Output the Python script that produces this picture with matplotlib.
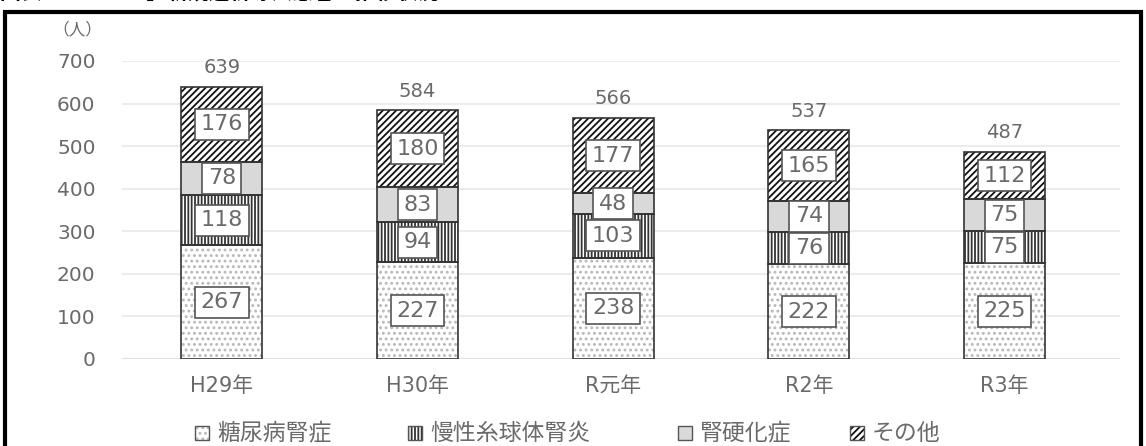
import matplotlib.pyplot as plt
from matplotlib.patches import Rectangle
import numpy as np

plt.rcParams['font.family'] = ['DejaVu Sans', 'Noto Sans CJK JP']
plt.rcParams['hatch.linewidth'] = 1.3

W, H = 1146, 446

# data
years = ['H29年', 'H30年', 'R元年', 'R2年', 'R3年']
diabetic = [267, 227, 238, 222, 225]      # 糖尿病腎症
glomerular = [118, 94, 103, 76, 75]       # 慢性糸球体腎炎
sclerosis = [78, 83, 48, 74, 75]          # 腎硬化症
other = [176, 180, 177, 165, 112]         # その他
totals = [639, 584, 566, 537, 487]

series = [
    ('糖尿病腎症', diabetic, 'white', '#b8b8b8', '...'),
    ('慢性糸球体腎炎', glomerular, 'white', '#333333', '|||||'),
    ('腎硬化症', sclerosis, '#d9d9d9', '#d9d9d9', None),
    ('その他', other, 'white', '#111111', '/////'),
]

fig = plt.figure(figsize=(W / 100, H / 100), dpi=100)
ax = fig.add_axes([122 / W, 1 - 359 / H, (1120 - 122) / W, (359 - 61) / H])

x = np.arange(len(years))
width = 0.414
bottom = np.zeros(len(years))
text_color = '#6a6a6a'

for name, vals, face, hcol, hatch in series:
    vals = np.array(vals)
    ax.bar(x, vals, width, bottom=bottom, color=face, edgecolor=hcol,
           hatch=hatch, linewidth=0, zorder=2)
    ax.bar(x, vals, width, bottom=bottom, fill=False, edgecolor='#333333',
           linewidth=1.2, zorder=3)
    for xi, b, v in zip(x, bottom, vals):
        ax.text(xi, b + v / 2, str(v), ha='center', va='center', fontsize=16,
                color=text_color, zorder=4,
                bbox=dict(boxstyle='square,pad=0.25', fc='white',
                          ec='#555555', lw=1.2))
    bottom += vals

for xi, t in zip(x, totals):
    ax.annotate(str(t), (xi, t), xytext=(0, 7), textcoords='offset points',
                ha='center', va='bottom', fontsize=14, color=text_color)

ax.set_xlim(-0.51, 4.59)
ax.set_ylim(0, 700)
ax.set_yticks(range(0, 701, 100))
ax.set_xticks(x)
ax.set_xticklabels(years)
ax.tick_params(axis='y', length=0, pad=19, labelsize=14.5, labelcolor=text_color)
ax.tick_params(axis='x', length=0, pad=12, labelsize=15, labelcolor=text_color)
ax.grid(axis='y', color='#ececec', linewidth=1.5, zorder=0)
ax.set_axisbelow(True)
for s in ax.spines.values():
    s.set_visible(False)
ax.axhline(0, color='#e0e0e0', linewidth=1.5, zorder=1)

fig.text(77 / W, 1 - 30 / H, '（人）', fontsize=12, color=text_color,
         ha='center', va='center', family='Noto Sans CJK JP')

# legend, one entry at a time
leg_x = [195, 408, 678, 850]
leg_y = 433
for (name, vals, face, hcol, hatch), lx in zip(series, leg_x):
    fig.patches.append(Rectangle((lx / W, 1 - (leg_y + 7) / H), 14 / W, 14 / H,
                                 transform=fig.transFigure, facecolor=face,
                                 edgecolor=hcol if hatch else '#555555',
                                 hatch=hatch, linewidth=0))
    fig.patches.append(Rectangle((lx / W, 1 - (leg_y + 7) / H), 14 / W, 14 / H,
                                 transform=fig.transFigure, fill=False,
                                 edgecolor='#555555', linewidth=1.0))
    fig.text((lx + 22) / W, 1 - leg_y / H, name, fontsize=16.5,
             color=text_color, va='center', family='Noto Sans CJK JP')

# caption above the frame, cut off by the top edge as in the source
fig.text(0, 1 + 8 / H, '図表　　　　　】新規透析導入患者の推移状況', fontsize=15,
         color='black', fontweight='bold', va='center',
         family='Noto Sans CJK JP')

# outer frame
fig.patches.append(Rectangle((5 / W, -0.05), 1136 / W, 1.05 - 12 / H,
                             transform=fig.transFigure, fill=False,
                             edgecolor='black', linewidth=3))

plt.savefig('out.png', dpi=100)
